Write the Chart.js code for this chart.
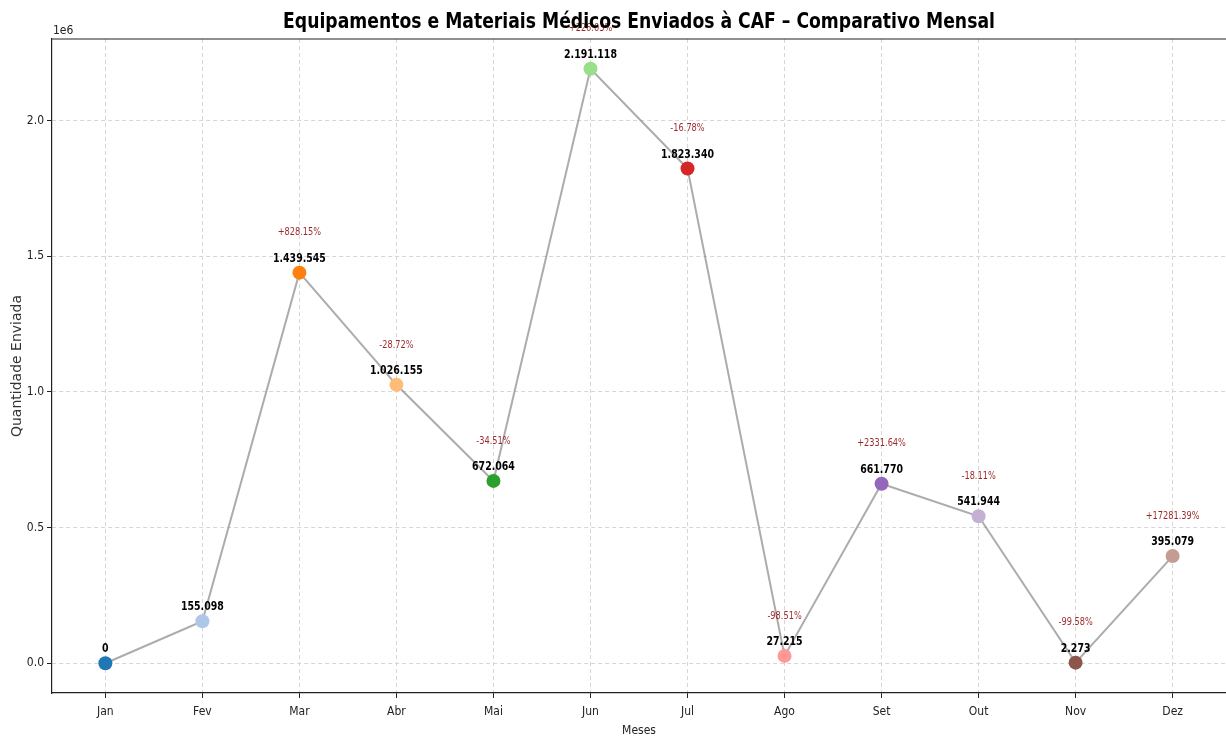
<!DOCTYPE html>
<html>
<head>
<meta charset="utf-8">
<script src="https://cdn.jsdelivr.net/npm/chart.js@4.4.1/dist/chart.umd.min.js"></script>
<style>
  html, body { margin: 0; padding: 0; background: #fff; }
  #wrap { width: 1226px; height: 740px; }
</style>
</head>
<body>
<div id="wrap"><canvas id="chart" width="1226" height="740"></canvas></div>
<script>
const months = ['Jan', 'Fev', 'Mar', 'Abr', 'Mai', 'Jun', 'Jul', 'Ago', 'Set', 'Out', 'Nov', 'Dez']
const quantities = [0, 155098, 1439545, 1026155, 672064, 2191118, 1823340, 27215, 661770, 541944, 2273, 395079]
const yTickValues = [0, 500000, 1000000, 1500000, 2000000]

// tab20 palette, one per month
const palette = ['#1f77b4', '#aec7e8', '#ff7f0e', '#ffbb78', '#2ca02c', '#98df8a',
                 '#d62728', '#ff9896', '#9467bd', '#c5b0d5', '#8c564b', '#c49c94']

const COND = "'DejaVu Sans Condensed', 'Liberation Sans Narrow', 'DejaVu Sans', sans-serif"
const TITLE = 'Equipamentos e Materiais Médicos Enviados à CAF – Comparativo Mensal'
const SQUEEZE = 0.87

function fmtBR(v) {
  return String(v).replace(/\B(?=(\d{3})+(?!\d))/g, '.')
}

// texto um pouco estreitado na horizontal
function narrowText(ctx, txt, x, y) {
  ctx.save()
  ctx.translate(x, y)
  ctx.scale(SQUEEZE, 1)
  ctx.fillText(txt, 0, 0)
  ctx.restore()
}

// textos sobre os pontos (valor + variação mensal) e título
const annotations = {
  id: 'annotations',
  afterDatasetsDraw(chart) {
    const ctx = chart.ctx
    const meta = chart.getDatasetMeta(0)
    ctx.save()
    ctx.textAlign = 'center'
    ctx.textBaseline = 'middle'
    meta.data.forEach((pt, i) => {
      ctx.font = `bold 12px ${COND}`
      ctx.fillStyle = '#000'
      narrowText(ctx, fmtBR(quantities[i]), pt.x, pt.y - 14)
      if (i > 0 && quantities[i - 1] > 0) {
        const pct = (quantities[i] / quantities[i - 1] - 1) * 100
        const txt = (pct >= 0 ? '+' : '') + pct.toFixed(2) + '%'
        ctx.font = `10.5px ${COND}`
        ctx.fillStyle = 'rgba(139,0,0,0.85)'
        narrowText(ctx, txt, pt.x, pt.y - 40)
      }
    })
    ctx.restore()
  },
  afterDraw(chart) {
    const ctx = chart.ctx
    const a = chart.chartArea
    ctx.save()
    // moldura superior
    ctx.strokeStyle = '#222'
    ctx.lineWidth = 1.2
    ctx.beginPath()
    ctx.moveTo(a.left, a.top)
    ctx.lineTo(a.right, a.top)
    ctx.stroke()
    // multiplicador do eixo y
    ctx.fillStyle = '#222'
    ctx.font = `12px ${COND}`
    ctx.textAlign = 'left'
    ctx.textBaseline = 'bottom'
    ctx.fillText('1e6', a.left + 1, a.top - 2)
    // título
    ctx.fillStyle = '#000'
    ctx.font = `bold 22px ${COND}`
    ctx.textAlign = 'center'
    ctx.textBaseline = 'middle'
    narrowText(ctx, TITLE, (a.left + a.right) / 2, 22)
    ctx.restore()
  }
}

new Chart(document.getElementById('chart').getContext('2d'), {
  type: 'line',
  data: {
    datasets: [{
      data: quantities.map((v, i) => ({ x: i, y: v })),
      borderColor: 'rgba(128,128,128,0.65)',
      borderWidth: 2,
      tension: 0,
      pointRadius: 7,
      pointHoverRadius: 7,
      pointBackgroundColor: palette,
      pointBorderColor: palette,
      pointBorderWidth: 0
    }]
  },
  options: {
    responsive: false,
    animation: false,
    layout: { autoPadding: false, padding: { top: 39, right: 0, left: 0, bottom: 0 } },
    plugins: {
      legend: { display: false },
      tooltip: { enabled: false }
    },
    scales: {
      x: {
        type: 'linear',
        min: -0.55,
        max: 11.55,
        afterBuildTicks(scale) {
          scale.ticks = months.map((m, i) => ({ value: i }))
        },
        afterFit(scale) {
          scale.height = 47
          scale.paddingLeft = 0
          scale.paddingRight = 0
        },
        ticks: {
          padding: 7,
          color: '#222',
          font: { family: COND, size: 12 },
          callback: (v) => months[v]
        },
        grid: {
          color: '#d6d6d6',
          tickLength: 5,
          tickColor: '#222',
          tickBorderDash: []
        },
        border: { color: '#222', width: 1.2, dash: [4, 3] },
        title: {
          display: true,
          text: 'Meses',
          color: '#222',
          font: { family: COND, size: 12 },
          padding: { top: 0, bottom: 2 }
        }
      },
      y: {
        min: -109556,
        max: 2300674,
        afterBuildTicks(scale) {
          scale.ticks = yTickValues.map(v => ({ value: v }))
        },
        afterFit(scale) {
          scale.width = 52
          scale.paddingTop = 0
          scale.paddingBottom = 0
        },
        ticks: {
          padding: 3,
          color: '#222',
          font: { family: COND, size: 12 },
          callback: (v) => (v / 1e6).toFixed(1)
        },
        grid: {
          color: '#d6d6d6',
          tickLength: 5,
          tickColor: '#222',
          tickBorderDash: []
        },
        border: { color: '#222', width: 1.2, dash: [4, 3] },
        title: {
          display: true,
          text: 'Quantidade Enviada',
          color: '#333',
          font: { family: "'DejaVu Sans', sans-serif", size: 14 },
          padding: { top: 9, bottom: 0 }
        }
      }
    }
  },
  plugins: [annotations]
})
</script>
</body>
</html>
